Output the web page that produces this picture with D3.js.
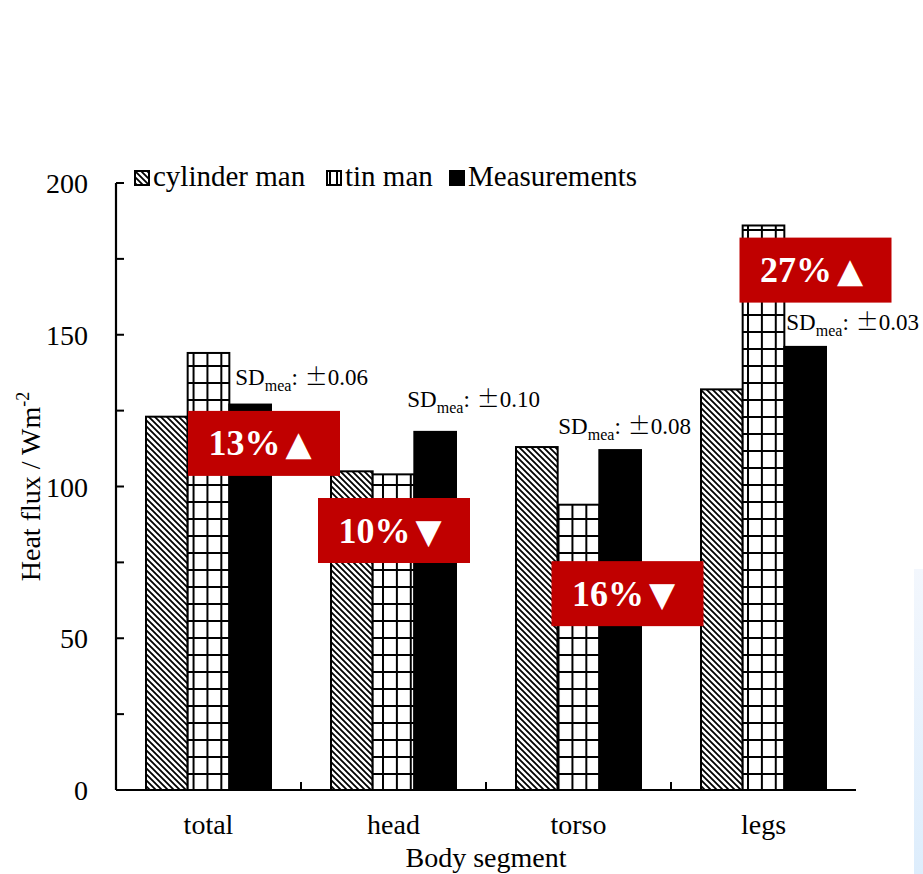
<!DOCTYPE html>
<html>
<head>
<meta charset="utf-8">
<script src="https://cdn.jsdelivr.net/npm/d3@7"></script>
<style>
  html, body { margin: 0; padding: 0; background: #fff; }
  svg { display: block; }
</style>
</head>
<body>
<svg id="chart" width="923" height="874" font-family="'Liberation Serif', 'Times New Roman', serif"></svg>
<script>
// Body segments on the x axis
const segments = ["total", "head", "torso", "legs"];
// Series names
const seriesNames = ["cylinder man", "tin man", "Measurements"];
// Heat flux values (W/m2), one array per series
const cylinderMan = [123, 105, 113, 132];
const tinMan = [144, 104, 94, 186];
const measurements = [127, 118, 112, 146];
// y axis ticks
const yTicks = [0, 50, 100, 150, 200];
const yMinorTicks = [25, 75, 125, 175];
// Standard deviation of the measurements, per segment
const sdMea = ["0.06", "0.10", "0.08", "0.03"];
// Difference labels, per segment
const diffLabels = ["13%▲", "10%▼", "16%▼", "27%▲"];

const svg = d3.select("#chart");
const W = 923, H = 874;

// faint strip on the right-hand edge
const defs = svg.append("defs");
const strip = defs.append("linearGradient").attr("id", "strip").attr("x1", 0).attr("y1", 0).attr("x2", 0).attr("y2", 1);
strip.append("stop").attr("offset", 0).attr("stop-color", "#f3f7fd");
strip.append("stop").attr("offset", 1).attr("stop-color", "#ddedfc");
svg.append("rect").attr("x", 914).attr("y", 569).attr("width", 9).attr("height", H - 569).attr("fill", "url(#strip)");

const plot = { left: 116, right: 856, top: 183, bottom: 790 };

const y = d3.scaleLinear().domain([0, 200]).range([plot.bottom, plot.top]);
const x0 = d3.scaleBand().domain(segments).range([plot.left, plot.right]).padding(0);
const x1 = d3.scaleBand().domain(seriesNames).range([30, 155]).padding(0);

const rows = segments.map((s, i) => ({
  segment: s,
  values: [cylinderMan[i], tinMan[i], measurements[i]],
  sd: sdMea[i],
  diff: diffLabels[i]
}));

// Diagonal hatch for the "cylinder man" series
const hatch = defs.append("pattern").attr("id", "hatch")
  .attr("patternUnits", "userSpaceOnUse").attr("width", 6).attr("height", 6);
hatch.append("rect").attr("width", 6).attr("height", 6).attr("fill", "#fff");
hatch.append("path").attr("d", "M-1,-1L7,7M-1,5L1,7M5,-1L7,1")
  .attr("stroke", "#000").attr("stroke-width", 1.8);

// Square grid for the "tin man" series, one pattern per bar so the lines line up with its edges
function gridPattern(id, px, py, cw, ch) {
  const p = defs.append("pattern").attr("id", id)
    .attr("patternUnits", "userSpaceOnUse")
    .attr("x", px).attr("y", py).attr("width", cw).attr("height", ch);
  p.append("rect").attr("width", cw).attr("height", ch).attr("fill", "#fff");
  p.append("path").attr("d", `M0,0V${ch}M0,0H${cw}`)
    .attr("stroke", "#000").attr("stroke-width", 4);
}
segments.forEach((s, i) => {
  gridPattern("grid" + i, x0(s) + x1("tin man"), plot.bottom, x1.bandwidth() / 3, 17);
});
gridPattern("gridLegend", 0, 0, 7, 40);

const fills = (k, i) => k === 0 ? "url(#hatch)" : k === 1 ? `url(#grid${i})` : "#000";

// Bars
const groups = svg.append("g").selectAll("g").data(rows).join("g")
  .attr("transform", d => `translate(${x0(d.segment)},0)`);
groups.each(function (d, i) {
  d3.select(this).selectAll("rect").data(d.values).join("rect")
    .attr("x", (v, k) => x1(seriesNames[k]))
    .attr("y", v => y(v))
    .attr("width", x1.bandwidth())
    .attr("height", v => y(0) - y(v))
    .attr("fill", (v, k) => fills(k, i))
    .attr("stroke", "#000")
    .attr("stroke-width", 2);
});

// y axis
const yAxis = svg.append("g");
yAxis.append("line").attr("x1", plot.left).attr("x2", plot.left)
  .attr("y1", y(200)).attr("y2", y(0)).attr("stroke", "#000").attr("stroke-width", 2.2);
yAxis.selectAll(".tk").data(yTicks.concat(yMinorTicks)).join("line")
  .attr("x1", plot.left).attr("x2", plot.left + 8)
  .attr("y1", d => y(d)).attr("y2", d => y(d))
  .attr("stroke", "#000").attr("stroke-width", 2);
yAxis.selectAll("text").data(yTicks).join("text")
  .attr("x", 88).attr("y", d => y(d) + 10)
  .attr("text-anchor", "end").attr("font-size", 28)
  .text(d => d);

// x axis
const xAxis = svg.append("g");
xAxis.append("line").attr("x1", plot.left).attr("x2", plot.right)
  .attr("y1", plot.bottom).attr("y2", plot.bottom).attr("stroke", "#000").attr("stroke-width", 2.2);
xAxis.selectAll(".tk").data(segments.slice(1)).join("line")
  .attr("x1", d => x0(d)).attr("x2", d => x0(d))
  .attr("y1", plot.bottom).attr("y2", plot.bottom - 8)
  .attr("stroke", "#000").attr("stroke-width", 2);
xAxis.selectAll("text").data(segments).join("text")
  .attr("x", d => x0(d) + x0.bandwidth() / 2).attr("y", 834)
  .attr("text-anchor", "middle").attr("font-size", 28)
  .text(d => d);

// Axis titles
svg.append("text").attr("x", x0("head") + x0.bandwidth())
  .attr("y", 867).attr("text-anchor", "middle").attr("font-size", 28)
  .text("Body segment");
const yt = svg.append("text")
  .attr("transform", `translate(40,${y(100)}) rotate(-90)`)
  .attr("text-anchor", "middle").attr("font-size", 28);
yt.append("tspan").text("Heat flux / Wm");
yt.append("tspan").attr("font-size", 18).attr("dy", -11).text("-2");

// SD labels above the measured bars
const sdPlace = [
  { dx: 6, dy: -20 },
  { dx: -7, dy: -25 },
  { dx: -41, dy: -16 },
  { dx: 2, dy: -17 }
];
rows.forEach((d, i) => {
  const t = svg.append("text")
    .attr("x", x0(d.segment) + x1("Measurements") + sdPlace[i].dx)
    .attr("y", y(d.values[2]) + sdPlace[i].dy)
    .attr("font-size", 23);
  t.append("tspan").text("SD");
  t.append("tspan").attr("font-size", 16).attr("dy", 6).text("mea");
  t.append("tspan").attr("dy", -6).text(":");
  t.append("tspan").attr("font-family", "'Noto Sans CJK JP', sans-serif").attr("font-weight", 300).attr("dx", 7).text("\u00b1");
  t.append("tspan").text(d.sd);
});

// Red difference boxes
const boxPlace = [
  { dx: 55.5, v: 114.2 },
  { dx: 0.5, v: 85.5 },
  { dx: 49, v: 64.7 },
  { dx: 52, v: 171.3 }
];
const boxW = 152, boxH = 65;
rows.forEach((d, i) => {
  const cx = x0(d.segment) + x0.bandwidth() / 2 + boxPlace[i].dx;
  const cy = y(boxPlace[i].v);
  svg.append("rect").attr("x", cx - boxW / 2).attr("y", cy - boxH / 2)
    .attr("width", boxW).attr("height", boxH).attr("fill", "#c00000");
  const pct = d.diff.slice(0, -1), arrow = d.diff.slice(-1);
  const t = svg.append("text").attr("x", cx - 4).attr("y", cy + 12)
    .attr("text-anchor", "middle").attr("font-size", 36).attr("font-weight", "bold")
    .attr("fill", "#fff");
  t.append("tspan").text(pct);
  t.append("tspan").attr("font-family", "'DejaVu Sans', sans-serif").attr("font-size", 34).attr("dx", 5).text(arrow);
});

// Legend
const legend = svg.append("g");
const legX = [135, 327, 450];
seriesNames.forEach((s, k) => {
  const fill = k === 0 ? "url(#hatch)" : k === 1 ? "url(#gridLegend)" : "#000";
  legend.append("rect").attr("x", legX[k]).attr("y", 171).attr("width", 14).attr("height", 14)
    .attr("fill", fill).attr("stroke", "#000").attr("stroke-width", 2);
  legend.append("text").attr("x", legX[k] + 18).attr("y", 186).attr("font-size", 29).text(s);
});
</script>
</body>
</html>
